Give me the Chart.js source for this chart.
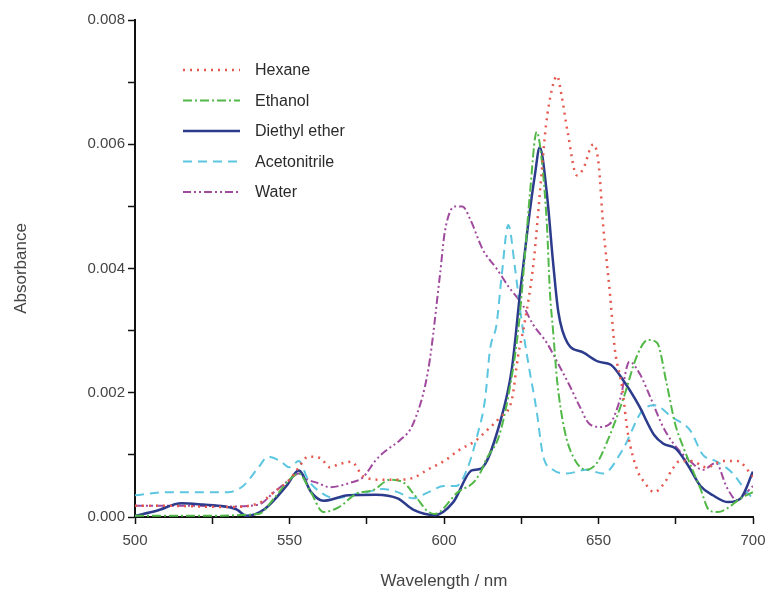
<!DOCTYPE html>
<html>
<head>
<meta charset="utf-8">
<script src="https://cdn.jsdelivr.net/npm/chart.js@4.4.1/dist/chart.umd.min.js"></script>
<style>
  html, body { margin: 0; padding: 0; background: #fff; }
  #wrap { width: 769px; height: 601px; position: relative; }
</style>
</head>
<body>
<div id="wrap"><canvas id="absChart"></canvas></div>
<script>
// Absorbance spectra in different solvents
const hexaneWl = [500, 510, 520, 530, 540, 545, 550, 553, 556, 560, 563, 566, 570, 574, 580, 585, 590, 595, 600, 605, 610, 614, 618, 622, 624, 626, 629, 631, 633, 635, 636.6, 638, 640, 643, 645, 648.3, 650, 651.5, 653.7, 655.3, 657.6, 659.5, 662.5, 665, 668, 671.5, 673.8, 676.4, 680, 685, 690, 695, 700];
const hexaneAbs = [0.00018, 0.00018, 0.00017, 0.00016, 0.00022, 0.0004, 0.0006, 0.0008, 0.00097, 0.00095, 0.0008, 0.00085, 0.00089, 0.00065, 0.0006, 0.0006, 0.00063, 0.00077, 0.0009, 0.00108, 0.00122, 0.0014, 0.0016, 0.0019, 0.0026, 0.0031, 0.0041, 0.0052, 0.0063, 0.0069, 0.0071, 0.0068, 0.0062, 0.0055, 0.0056, 0.006, 0.0057, 0.0047, 0.0036, 0.0027, 0.0021, 0.00135, 0.00076, 0.00055, 0.0004, 0.00056, 0.00076, 0.0009, 0.0009, 0.0008, 0.0009, 0.0009, 0.00065];

const ethanolWl = [500, 520, 540, 545, 550, 553, 556.6, 561, 566, 571.8, 577, 582.5, 586.7, 591, 594.5, 597, 604.5, 609.4, 611.6, 613.8, 617.8, 621, 624, 626, 627.8, 630, 631.5, 633.3, 634.3, 635.3, 636.6, 639, 641.8, 646, 649.5, 652.7, 658, 662.5, 666, 669, 672, 674.8, 677.4, 682.8, 686, 688.6, 692, 696, 700];
const ethanolAbs = [0.00002, 0.00002, 0.00005, 0.0003, 0.0006, 0.0007, 0.00043, 0.00008, 0.00016, 0.00038, 0.00043, 0.0006, 0.00056, 0.00032, 0.0001, 0.00005, 0.0004, 0.00055, 0.0007, 0.00094, 0.0013, 0.002, 0.003, 0.0041, 0.0052, 0.0062, 0.0058, 0.0047, 0.0036, 0.003, 0.0022, 0.0014, 0.00097, 0.00076, 0.00087, 0.0012, 0.0019, 0.0026, 0.00285, 0.0028, 0.00216, 0.0015, 0.00113, 0.00048, 0.0001, 0.00008, 0.00015, 0.0003, 0.0004];

const etherWl = [500, 507, 515, 522, 529, 533, 536, 542, 549, 553, 557, 561, 569, 578, 585, 590, 597, 603, 609, 612, 618, 622, 624.6, 627.2, 629.4, 631, 633.3, 635.3, 637, 640, 645, 650, 654, 658, 663, 668, 671, 675, 679, 683, 687, 692, 696, 700];
const etherAbs = [0.00002, 0.0001, 0.00022, 0.0002, 0.00017, 0.00012, 0.00002, 0.00013, 0.0005, 0.00075, 0.0004, 0.00026, 0.00035, 0.00036, 0.0003, 0.00012, 0.00003, 0.00024, 0.00075, 0.00078, 0.0015, 0.0024, 0.0036, 0.0047, 0.0055, 0.00595, 0.0052, 0.0041, 0.0033, 0.0028, 0.00265, 0.0025, 0.00245, 0.0022, 0.0018, 0.00132, 0.00118, 0.0011, 0.00083, 0.0005, 0.00035, 0.00024, 0.0003, 0.00073];

const acnWl = [500, 510, 520, 530, 535, 540, 543, 547, 550, 553, 556, 560, 565, 570, 575, 580, 585, 590, 595, 600, 604, 607.4, 610.7, 613.3, 614.9, 617, 618.7, 620.8, 623, 625, 627.2, 630, 632, 635.3, 639.8, 646, 651.5, 658, 664, 668, 674, 679.6, 683.8, 688, 693.5, 698, 700];
const acnAbs = [0.00035, 0.0004, 0.0004, 0.0004, 0.0005, 0.0008, 0.00097, 0.0009, 0.0008, 0.0009, 0.0006, 0.0004, 0.0003, 0.00035, 0.0004, 0.00045, 0.0004, 0.0003, 0.0004, 0.0005, 0.0005, 0.00076, 0.0013, 0.0019, 0.0027, 0.0031, 0.0039, 0.0047, 0.004, 0.0032, 0.0025, 0.0017, 0.001, 0.00076, 0.0007, 0.00076, 0.0007, 0.0011, 0.0017, 0.0018, 0.0016, 0.0014, 0.001, 0.0009, 0.0007, 0.0004, 0.0003];

const waterWl = [500, 510, 520, 530, 540, 545, 550, 553, 556, 559, 563, 569.6, 573.8, 578, 581.5, 585.8, 590, 595, 598.7, 600.3, 603.6, 606, 608.4, 612.6, 617, 621, 625.6, 628.8, 633.3, 636.6, 640.8, 644, 647, 650.5, 653.7, 657, 660, 663.4, 667, 670.9, 674, 679.6, 683.8, 688, 691.5, 694.8, 698, 700];
const waterAbs = [0.00018, 0.00018, 0.00018, 0.00017, 0.0002, 0.0004, 0.0006, 0.0007, 0.0006, 0.00055, 0.00048, 0.00055, 0.00064, 0.00092, 0.00108, 0.00124, 0.0015, 0.0024, 0.0039, 0.0046, 0.005, 0.005, 0.0048, 0.0043, 0.004, 0.0037, 0.0034, 0.0031, 0.0028, 0.0025, 0.0021, 0.00177, 0.0015, 0.00145, 0.0015, 0.0019, 0.0025, 0.0023, 0.0019, 0.00145, 0.0012, 0.0009, 0.00076, 0.00087, 0.00048, 0.00027, 0.0004, 0.0005];

const xTicks = [500, 550, 600, 650, 700];
const yTicks = [0, 0.002, 0.004, 0.006, 0.008];

function toPoints(wl, abs) {
  return wl.map((w, i) => ({ x: w, y: abs[i] }));
}

const FONT = 'Liberation Sans, Arial, sans-serif';

// legend drawn inside the plot, top-left, with line samples
const insideLegend = {
  id: 'insideLegend',
  afterDraw(chart) {
    const ctx = chart.ctx;
    const left = chart.chartArea.left + 48;
    let y = 70;
    ctx.save();
    chart.data.datasets.forEach(ds => {
      ctx.beginPath();
      ctx.setLineDash(ds.borderDash || []);
      ctx.lineWidth = ds.borderWidth;
      ctx.strokeStyle = ds.borderColor;
      ctx.moveTo(left, y);
      ctx.lineTo(left + 57, y);
      ctx.stroke();
      ctx.setLineDash([]);
      ctx.fillStyle = '#2a2a2a';
      ctx.font = '16px ' + FONT;
      ctx.textBaseline = 'middle';
      ctx.fillText(ds.label, left + 72, y + 1);
      y += 30.5;
    });
    ctx.restore();
  }
};

const ctx = document.getElementById('absChart').getContext('2d');
new Chart(ctx, {
  type: 'line',
  data: {
    datasets: [
      { label: 'Hexane', data: toPoints(hexaneWl, hexaneAbs), borderColor: '#e4584e', borderWidth: 2.5, borderDash: [2, 5] },
      { label: 'Ethanol', data: toPoints(ethanolWl, ethanolAbs), borderColor: '#52b848', borderWidth: 2, borderDash: [9, 3, 2, 3] },
      { label: 'Diethyl ether', data: toPoints(etherWl, etherAbs), borderColor: '#2c3b8c', borderWidth: 2.5, borderDash: [] },
      { label: 'Acetonitrile', data: toPoints(acnWl, acnAbs), borderColor: '#5cc6e0', borderWidth: 2, borderDash: [9, 6] },
      { label: 'Water', data: toPoints(waterWl, waterAbs), borderColor: '#a04a9e', borderWidth: 2, borderDash: [8, 3, 2, 3, 2, 3] }
    ]
  },
  options: {
    responsive: true,
    maintainAspectRatio: false,
    animation: false,
    layout: { padding: { left: 0, right: 16, top: 20, bottom: 5 } },
    elements: {
      point: { radius: 0 },
      line: { cubicInterpolationMode: 'monotone', fill: false }
    },
    plugins: {
      legend: { display: false },
      tooltip: { enabled: false }
    },
    scales: {
      x: {
        type: 'linear',
        min: 500,
        max: 700,
        afterFit: s => { s.height = 79; s.paddingRight = 0; s.paddingLeft = 0; },
        border: { color: '#111', width: 2 },
        grid: { drawOnChartArea: false, tickLength: 7, color: '#111', tickWidth: 1.5 },
        ticks: {
          stepSize: 25,
          padding: 8,
          color: '#444',
          font: { family: FONT, size: 15 },
          callback: v => (xTicks.includes(v) ? String(v) : '')
        },
        title: { display: true, text: 'Wavelength / nm', color: '#444', font: { family: FONT, size: 17 }, padding: { top: 4 } }
      },
      y: {
        min: 0,
        max: 0.008,
        afterFit: s => { s.width = 135; },
        border: { color: '#111', width: 2 },
        grid: { drawOnChartArea: false, tickLength: 7, color: '#111', tickWidth: 1.5 },
        ticks: {
          stepSize: 0.001,
          padding: 3,
          color: '#444',
          font: { family: FONT, size: 15 },
          callback: v => {
            const hit = yTicks.find(t => Math.abs(t - v) < 1e-9);
            return hit !== undefined ? hit.toFixed(3) : '';
          }
        },
        title: { display: true, text: 'Absorbance', color: '#444', font: { family: FONT, size: 17 }, padding: { top: 11, bottom: 8 } }
      }
    }
  },
  plugins: [insideLegend]
});
</script>
</body>
</html>
